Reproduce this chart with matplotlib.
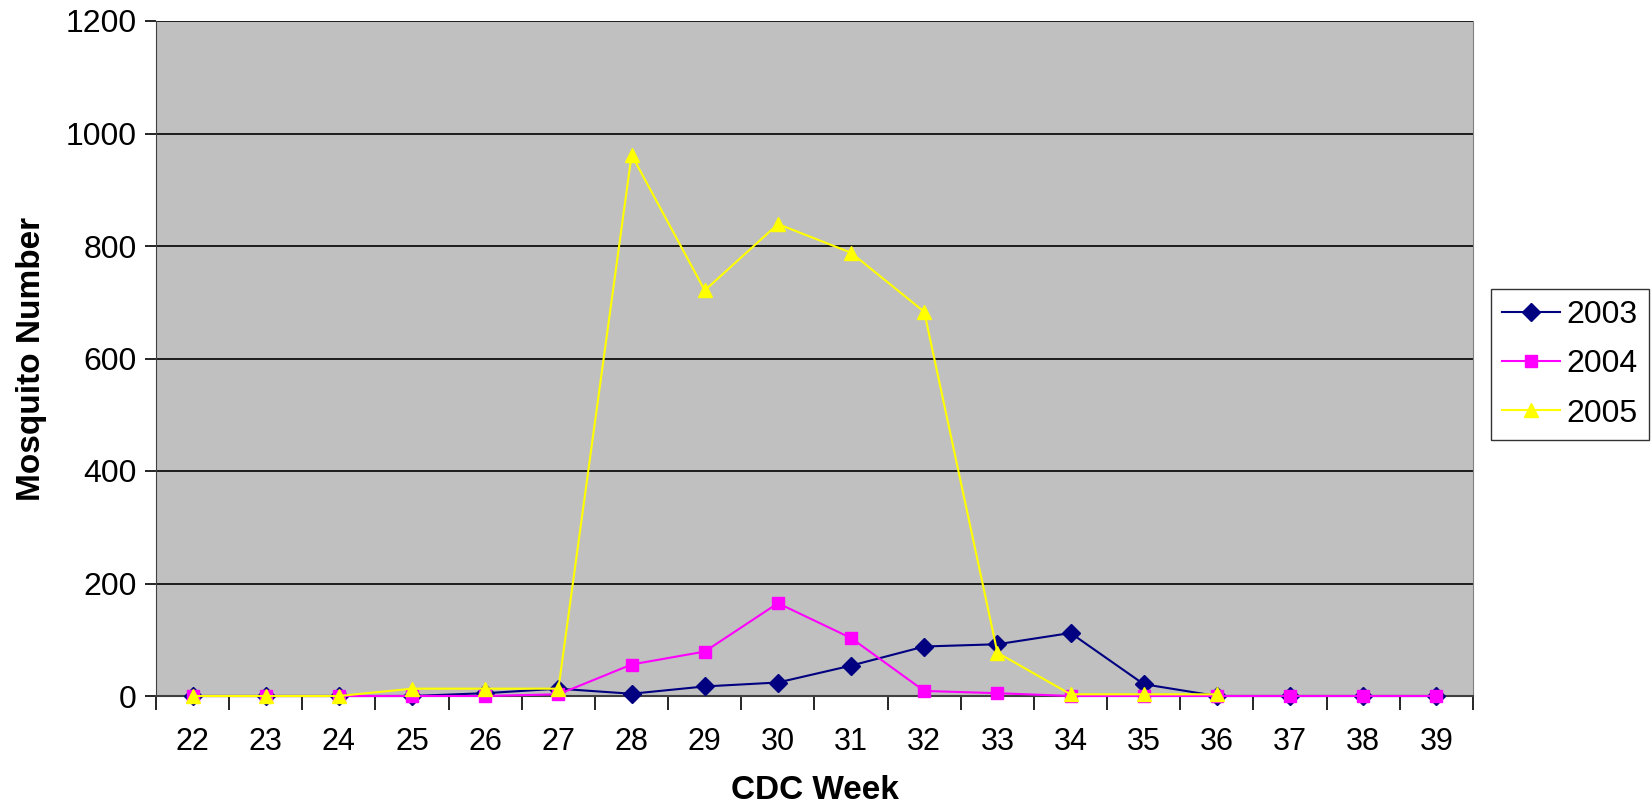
import matplotlib
matplotlib.use("Agg")
import matplotlib.pyplot as plt
from matplotlib.ticker import MultipleLocator, FixedLocator

plt.rcParams['font.family'] = ['Liberation Sans', 'DejaVu Sans']

weeks = [22, 23, 24, 25, 26, 27, 28, 29, 30, 31, 32, 33, 34, 35, 36, 37, 38, 39]
y2003 = [0, 0, 0, 0, 5, 13, 4, 17, 24, 54, 88, 92, 112, 21, 0, 0, 0, 0]
y2004 = [0, 0, 0, 0, 0, 3, 56, 79, 165, 103, 9, 5, 0, 0, 0, 0, 0, 0]
y2005 = [0, 0, 0, 13, 13, 13, 962, 721, 839, 788, 683, 77, 3, 3, 3, None, None, None]

series = [
    ("2003", y2003, "#000080", "D", 9),
    ("2004", y2004, "#FF00FF", "s", 8),
    ("2005", y2005, "#FFFF00", "^", 10),
]

fig = plt.figure(figsize=(16.52, 8.07), dpi=100)
ax = fig.add_axes([156/1652, 1-696/807, (1473-156)/1652, (696-21)/807])
ax.set_facecolor("#C0C0C0")

for label, vals, color, marker, ms in series:
    xs = [w for w, v in zip(weeks, vals) if v is not None]
    ys = [v for v in vals if v is not None]
    ax.plot(xs, ys, color=color, marker=marker, markersize=ms, linewidth=1.5,
            label=label, clip_on=False, zorder=3)

ax.set_xlim(21.5, 39.5)
ax.set_ylim(0, 1200)
ax.yaxis.set_major_locator(MultipleLocator(200))
ax.grid(axis='y', color='black', linewidth=1.2, zorder=1)
ax.set_axisbelow(True)

ax.set_xticks(weeks)
ax.set_xticklabels([str(w) for w in weeks])
ax.xaxis.set_minor_locator(FixedLocator([w + 0.5 for w in [21] + weeks]))
ax.tick_params(axis='x', which='major', length=0, pad=22, labelsize=22)
ax.tick_params(axis='x', which='minor', length=10, width=1.2, direction='out', color='black')
ax.tick_params(axis='y', which='major', length=8, width=1.2, direction='out', labelsize=23, pad=6)

ax.spines['top'].set_visible(False)
ax.spines['right'].set_color('#808080')
ax.spines['left'].set_color('#404040')
ax.spines['bottom'].set_color('#404040')
ax.spines['bottom'].set_linewidth(1.5)

ax.set_xlabel("CDC Week", fontsize=24, fontweight='bold', labelpad=13)
ax.set_ylabel("Mosquito Number", fontsize=24, fontweight='bold', labelpad=13)

leg = fig.legend(loc='upper left', bbox_to_anchor=(1491/1652, 1-289/807),
                 fontsize=23, frameon=True, fancybox=False, edgecolor='black',
                 borderpad=0.35, handlelength=1.8, labelspacing=0.6, handletextpad=0.22,
                 borderaxespad=0)
leg.get_frame().set_linewidth(1.0)

fig.savefig("out.png", dpi=100)
